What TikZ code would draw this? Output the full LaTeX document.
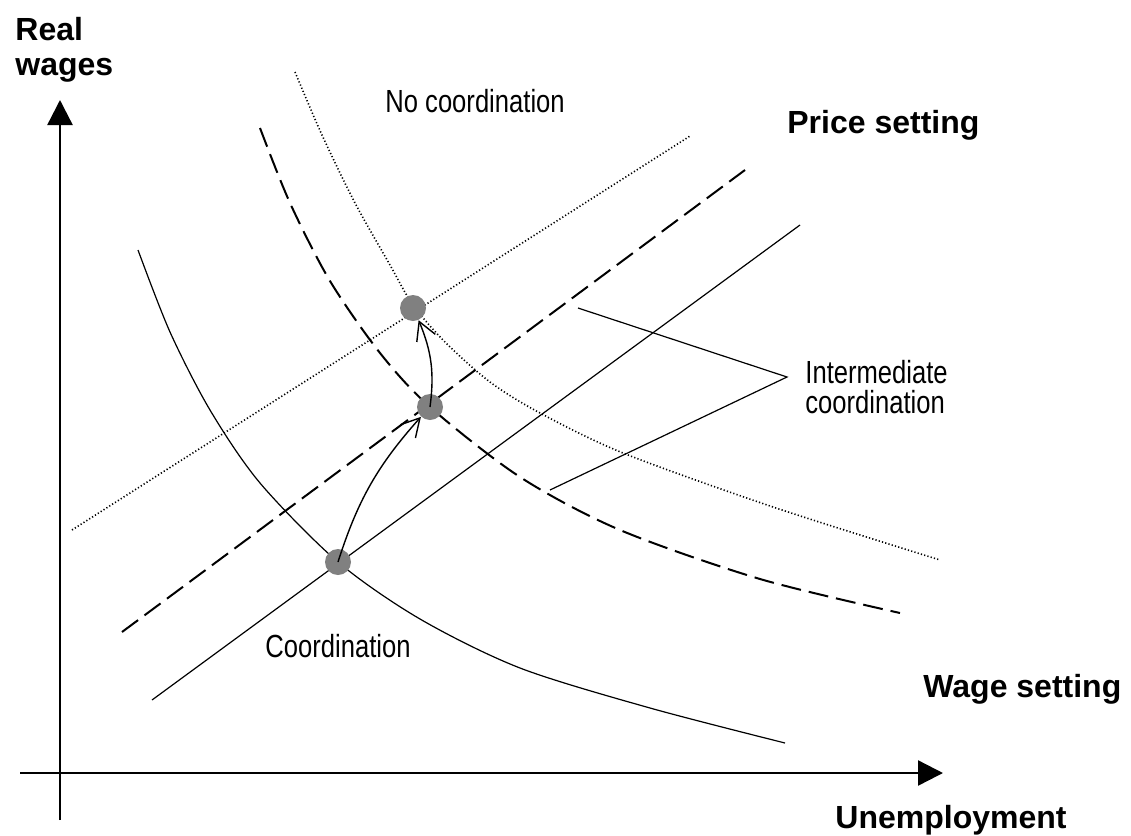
\documentclass[tikz,border=0pt]{standalone}
\usepackage{fontspec}
\setmainfont{Liberation Sans}
\newfontfamily\narrowfont[FakeStretch=0.8]{Liberation Sans}
\usetikzlibrary{arrows.meta}
\definecolor{dotgray}{RGB}{128,128,128}
\begin{document}
\begin{tikzpicture}[x=0.5pt,y=-0.5pt,
  axis/.style={line width=1.2pt,-{Triangle[length=12.5pt,width=12.5pt]}},
  schedule/.style={line width=0.6pt},
  dotsched/.style={line width=0.8pt,dash pattern=on 0.6pt off 1.1pt},
  dashsched/.style={line width=1pt,dash pattern=on 10pt off 4pt},
  eqpt/.style={circle,fill=dotgray,inner sep=0pt,minimum size=13pt},
  lbl/.style={font=\bfseries\fontsize{16}{17.5}\selectfont,inner sep=0pt},
  txt/.style={font=\narrowfont\fontsize{16}{15}\selectfont,inner sep=0pt,align=left},
  move/.style={line width=0.7pt,-{Straight Barb[length=9pt,width=10pt]}}]
\useasboundingbox (0,0) rectangle (1131,836);

% axes
\draw[axis] (60,820)--(60,100);
\draw[axis] (20,773)--(943,773);
\node[lbl,anchor=north west,align=left] (ylab) at (15,17) {Real\\wages};
\node[lbl,anchor=base west] (xlab) at (835,828) {Unemployment};

% price setting
\draw[schedule] (152,700)--(800,225);
\draw[dashsched] (122,632)--(745,170);
\draw[dotsched] (72,530)--(690,136);
\node[lbl,anchor=base west] (pslab) at (787,133) {Price setting};

% wage setting
\draw[schedule]
plot[smooth] coordinates {(138,250) (170,332) (210,410) (260,483) (338,562) (420,619) (520,668) (650,708) (785,743)};
\draw[dashsched]
plot[smooth] coordinates {(260,128) (290,203) (330,281) (380,353) (430,407) (520,477) (620,530) (760,579) (900,613)};
\draw[dotsched]
plot[smooth] coordinates {(295,72) (322,135) (355,203) (390,265) (413,305) (445,342) (490,382) (540,413) (623,453) (773,507) (940,560)};
\node[lbl,anchor=base west] (wslab) at (923,697) {Wage setting};

% equilibria
\node[eqpt] (low) at (338,562) {};
\node[eqpt] (mid) at (430,407) {};
\node[eqpt] (top) at (413,308) {};
\draw[move] (low.center) to[bend left=12] (mid);
\draw[move] (mid.center) to[bend right=15] (top);

% regimes
\node[txt,anchor=base west] (nocoord) at (385,112) {No coordination};
\node[txt,anchor=base west] (coord) at (265,657) {Coordination};
\node[txt,anchor=north west] (intcoord) at (805,360) {Intermediate\\coordination};
\coordinate (lead) at (787,377);
\coordinate (leadps) at (578,308);
\coordinate (leadws) at (550,490);
\draw[schedule] (leadps)--(lead)--(leadws);
\end{tikzpicture}
\end{document}
